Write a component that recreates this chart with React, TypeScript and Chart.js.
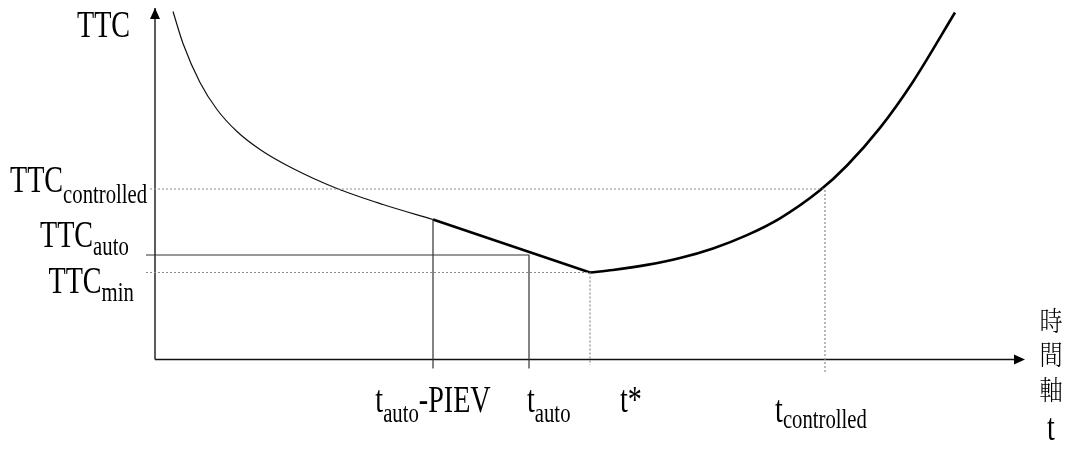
import React, { useEffect, useRef } from "react";
import { Chart, registerables } from "chart.js";

Chart.register(...registerables);

// ---- data (time units on x, TTC units on y) ----
const thinCurve: number[][] = [
  [1.8, 34.8], [2.8, 31.6], [4.5, 27.7], [6.2, 25.0], [8.2, 22.8], [10.5, 21.0],
  [13.5, 19.25], [18.2, 17.1], [22.8, 15.5], [27.8, 14.0],
];
const thickSegment: number[][] = [[27.8, 14.0], [43.5, 8.7]];
const thickCurve: number[][] = [
  [43.5, 8.7], [45.8, 8.95], [49.2, 9.46], [52.5, 10.15], [55.8, 11.11], [59.2, 12.44],
  [62.5, 14.12], [66.5, 16.92], [69.2, 19.4], [72.5, 23.16], [75.8, 27.78], [80.0, 34.7],
];

const T_PIEV = 27.8;
const T_AUTO = 37.4;
const T_STAR = 43.5;
const T_CONTROLLED = 67.0;
const TTC_CONTROLLED = 17.05;
const TTC_AUTO = 10.45;
const TTC_MIN = 8.7;
const TTC_AT_PIEV = 14.0;

const X_AXIS_END = 87;
const Y_AXIS_END = 35.15;

const xTickLabels = [
  { value: T_PIEV, main: "t", sub: "auto", rest: "-PIEV" },
  { value: T_AUTO, main: "t", sub: "auto", rest: "" },
  { value: T_STAR, main: "t*", sub: "", rest: "" },
  { value: T_CONTROLLED, main: "t", sub: "controlled", rest: "" },
];
const yTickLabels = [
  { value: TTC_CONTROLLED, main: "TTC", sub: "controlled" },
  { value: TTC_AUTO, main: "TTC", sub: "auto" },
  { value: TTC_MIN, main: "TTC", sub: "min" },
];
const yAxisTitle = "TTC";
const xAxisTitle = ["時", "間", "軸"];
const xAxisTitleLatin = "t";

const pts = (a: number[][]) => a.map(([x, y]) => ({ x, y }));

const SERIF = "'Liberation Serif', 'Times New Roman', serif";
const CJK = "'Noto Serif CJK TC', 'Noto Sans CJK TC', sans-serif";
const SX = 0.74;

function drawScaled(ctx: CanvasRenderingContext2D, text: string, x: number, y: number, size: number, family: string, sx: number, align: CanvasTextAlign = "left", baseline: CanvasTextBaseline = "alphabetic", weight = "normal") {
  ctx.save();
  ctx.font = `${weight} ${size}px ${family}`;
  ctx.textAlign = align;
  ctx.textBaseline = baseline;
  ctx.translate(x, y);
  ctx.scale(sx, 1);
  ctx.fillText(text, 0, 0);
  const w = ctx.measureText(text).width * sx;
  ctx.restore();
  return w;
}

function measure(ctx: CanvasRenderingContext2D, text: string, size: number) {
  ctx.save();
  ctx.font = `${size}px ${SERIF}`;
  const w = ctx.measureText(text).width * SX;
  ctx.restore();
  return w;
}

function drawComposite(ctx: CanvasRenderingContext2D, x: number, y: number, main: string, sub: string, rest: string, subDy: number) {
  let cx = x;
  cx += drawScaled(ctx, main, cx, y, 38, SERIF, SX);
  if (sub) cx += drawScaled(ctx, sub, cx, y + subDy, 28, SERIF, SX);
  if (rest) cx += drawScaled(ctx, rest, cx, y, 38, SERIF, SX);
  return cx - x;
}

function compositeWidth(ctx: CanvasRenderingContext2D, main: string, sub: string, rest: string) {
  return measure(ctx, main, 38) + (sub ? measure(ctx, sub, 28) : 0) + (rest ? measure(ctx, rest, 38) : 0);
}

const annotationPlugin = {
  id: "diagramAnnotations",
  afterDatasetsDraw(chart: any) {
    const ctx: CanvasRenderingContext2D = chart.ctx;
    const xs = chart.scales.x;
    const ys = chart.scales.y;
    const ox = xs.getPixelForValue(0);
    const oy = ys.getPixelForValue(0);
    ctx.save();
    ctx.fillStyle = "#000";

    // arrow heads
    const yTip = ys.getPixelForValue(Y_AXIS_END);
    ctx.beginPath();
    ctx.moveTo(ox, yTip);
    ctx.lineTo(ox - 5, yTip + 11);
    ctx.lineTo(ox + 5, yTip + 11);
    ctx.closePath();
    ctx.fill();
    const xTip = xs.getPixelForValue(X_AXIS_END);
    ctx.beginPath();
    ctx.moveTo(xTip, oy);
    ctx.lineTo(xTip - 11, oy - 5);
    ctx.lineTo(xTip - 11, oy + 5);
    ctx.closePath();
    ctx.fill();

    // y axis title
    drawScaled(ctx, yAxisTitle, ox - 78, yTip + 29, 38, SERIF, SX);

    // y tick labels (left side)
    const yOffsets = [
      { dx: -145, dy: 2.5, subDy: 11.5 },
      { dx: -115, dy: -8, subDy: 8 },
      { dx: -106.5, dy: 20, subDy: 8 },
    ];
    yTickLabels.forEach((l, i) => {
      const o = yOffsets[i];
      const py = ys.getPixelForValue(l.value);
      drawComposite(ctx, ox + o.dx, py + o.dy, l.main, l.sub, "", o.subDy);
    });

    // x tick labels (below axis)
    const xOffsets = [
      { align: "center", dx: 0, y: 411.7, subDy: 10 },
      { align: "left", dx: -2, y: 411.7, subDy: 10 },
      { align: "left", dx: 30, y: 411.7, subDy: 10 },
      { align: "center", dx: -4, y: 421.7, subDy: 6.5 },
    ];
    xTickLabels.forEach((l, i) => {
      const o = xOffsets[i];
      const px = xs.getPixelForValue(l.value);
      const w = compositeWidth(ctx, l.main, l.sub, l.rest);
      const left = o.align === "center" ? px + o.dx - w / 2 : px + o.dx;
      drawComposite(ctx, left, o.y, l.main, l.sub, l.rest, o.subDy);
    });

    // vertical x-axis title
    const tx = xTip + 26;
    xAxisTitle.forEach((ch, i) => {
      drawScaled(ctx, ch, tx, oy - 39 + i * 34.5, 27, CJK, 0.86, "center", "middle", "300");
    });
    drawScaled(ctx, xAxisTitleLatin, tx, oy + 80, 38, SERIF, SX, "center");

    ctx.restore();
  },
};

export default function App() {
  const ref = useRef<HTMLCanvasElement | null>(null);
  useEffect(() => {
    if (!ref.current) return;
    const dotted = "#8c8c8c";
    const line = (data: number[][], color: string, width: number, dash: number[] = [], curved = false) => ({
      data: pts(data),
      showLine: true,
      borderColor: color,
      backgroundColor: color,
      borderWidth: width,
      borderDash: dash,
      pointRadius: 0,
      pointHoverRadius: 0,
      fill: false,
      clip: false as any,
      cubicInterpolationMode: curved ? ("monotone" as const) : ("default" as const),
      tension: 0,
      borderCapStyle: "butt" as const,
      borderJoinStyle: "round" as const,
    });
    const chart = new Chart(ref.current, {
      type: "scatter",
      data: {
        datasets: [
          line([[-0.5, TTC_CONTROLLED], [T_CONTROLLED, TTC_CONTROLLED], [T_CONTROLLED, -1.35]], dotted, 1.2, [2, 2]),
          line([[-0.9, TTC_MIN], [T_STAR, TTC_MIN], [T_STAR, -0.55]], dotted, 1.2, [2, 2]),
          line([[-0.9, TTC_AUTO], [T_AUTO, TTC_AUTO], [T_AUTO, -0.85]], "#333", 1.2),
          line([[T_PIEV, TTC_AT_PIEV], [T_PIEV, -0.85]], "#333", 1.2),
          line([[0, 0], [0, Y_AXIS_END]], "#333", 1.6),
          line([[0, 0], [X_AXIS_END - 0.5, 0]], "#111", 1.6),
          line(thinCurve, "#111", 1.2, [], true),
          line(thickSegment, "#000", 2.6),
          line(thickCurve, "#000", 2.6, [], true),
        ],
      },
      options: {
        animation: false,
        responsive: false,
        maintainAspectRatio: false,
        devicePixelRatio: 1,
        layout: { padding: 0 },
        events: [],
        plugins: { legend: { display: false }, tooltip: { enabled: false }, title: { display: false } },
        scales: {
          x: { type: "linear", min: -15.5, max: 91.7, display: false },
          y: { type: "linear", min: -9.05, max: 35.95, display: false },
        },
      },
      plugins: [annotationPlugin],
    });
    return () => chart.destroy();
  }, []);
  return (
    <div style={{ position: "fixed", left: 0, top: 0, width: 1072, height: 450, background: "#fff" }}>
      <canvas ref={ref} width={1072} height={450} style={{ display: "block", width: 1072, height: 450 }} />
    </div>
  );
}
